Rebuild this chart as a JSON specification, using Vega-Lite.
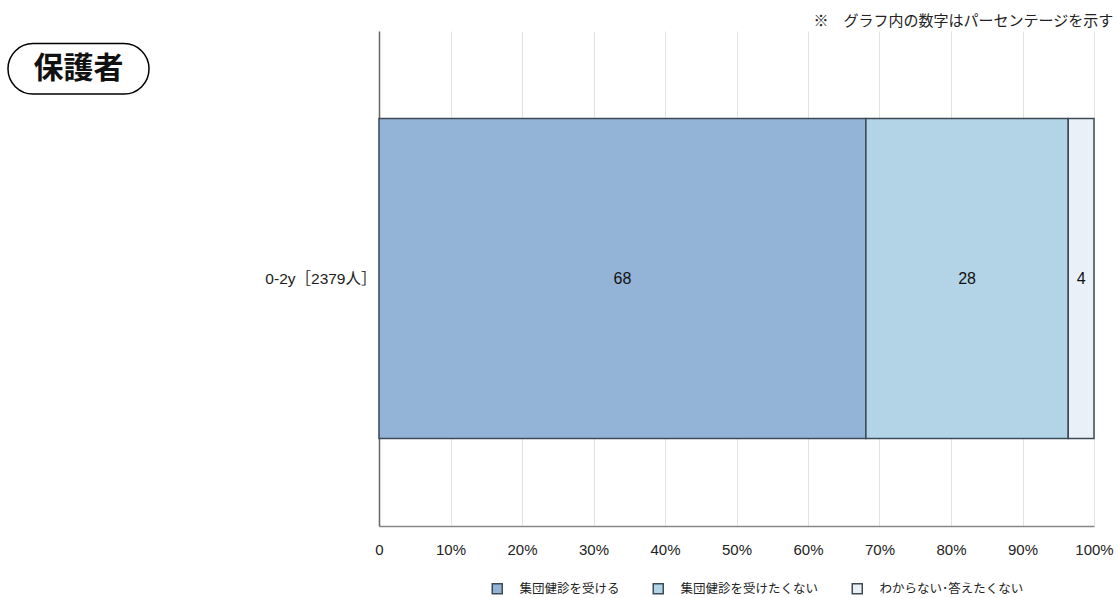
{
  "$schema": "https://vega.github.io/schema/vega-lite/v6.json",
  "background": "white",
  "padding": {"left": 7, "top": 14, "right": 4, "bottom": 2},
  "title": {"text": "※　グラフ内の数字はパーセンテージを示す", "anchor": "end", "fontSize": 15, "font": "Noto Sans CJK JP", "fontWeight": "normal", "color": "#222", "offset": 2},
  "config": {"view": {"stroke": null}, "font": "Liberation Sans, Noto Sans CJK JP"},
  "spacing": 105,
  "hconcat": [
    {
      "width": 141,
      "height": 63,
      "data": {"values": [{"label": "保護者"}]},
      "layer": [
        {
          "mark": {"type": "rect", "cornerRadius": 25, "fill": "white", "stroke": "black", "strokeWidth": 1.5},
          "encoding": {
            "x": {"datum": 0, "type": "quantitative", "scale": {"domain": [0, 1]}, "axis": null},
            "x2": {"datum": 1},
            "y": {"datum": 0, "type": "quantitative", "scale": {"domain": [0, 1]}, "axis": null},
            "y2": {"datum": 0.8}
          }
        },
        {
          "mark": {"type": "text", "fontSize": 30, "fontWeight": "bold", "font": "Noto Sans CJK JP", "color": "#111"},
          "encoding": {
            "x": {"datum": 0.5, "type": "quantitative"},
            "y": {"datum": 0.4, "type": "quantitative"},
            "text": {"field": "label"}
          }
        }
      ]
    },
    {
      "width": 715,
      "height": 495,
      "data": {"values": [
        {"group": "0-2y［2379人］", "answer": "集団健診を受ける", "order": 1, "value": 68.1},
        {"group": "0-2y［2379人］", "answer": "集団健診を受けたくない", "order": 2, "value": 28.3},
        {"group": "0-2y［2379人］", "answer": "わからない･答えたくない", "order": 3, "value": 3.6}
      ]},
      "transform": [
        {"stack": "value", "groupby": ["group"], "sort": [{"field": "order"}], "as": ["v0", "v1"]},
        {"calculate": "(datum.v0 + datum.v1) / 2", "as": "mid"}
      ],
      "encoding": {
        "y": {
          "field": "group", "type": "nominal", "title": null,
          "scale": {"paddingOuter": 0.273, "paddingInner": 0},
          "axis": {"domain": true, "domainColor": "#666", "domainWidth": 1.5, "ticks": false, "labelFontSize": 15.5, "labelPadding": 3, "labelColor": "#222", "grid": false, "minExtent": 124, "maxExtent": 124}
        }
      },
      "layer": [
        {
          "mark": {"type": "bar", "stroke": "#3d4b57", "strokeWidth": 1.5},
          "encoding": {
            "x": {
              "field": "v0", "type": "quantitative", "title": null,
              "scale": {"domain": [0, 100], "nice": false},
              "axis": {"values": [0, 10, 20, 30, 40, 50, 60, 70, 80, 90, 100], "labelExpr": "datum.value == 0 ? '0' : datum.value + '%'", "labelFlush": false, "grid": true, "gridColor": "#e2e2e2", "domainColor": "#888", "domainWidth": 1.5, "ticks": false, "labelFontSize": 15, "labelPadding": 16, "labelColor": "#222"}
            },
            "x2": {"field": "v1"},
            "color": {
              "field": "answer", "type": "nominal",
              "scale": {"domain": ["集団健診を受ける", "集団健診を受けたくない", "わからない･答えたくない"], "range": ["#93b3d7", "#b3d4e6", "#e9f0f8"]},
              "legend": {"title": null, "orient": "none", "legendX": 483, "legendY": 551, "direction": "horizontal", "symbolType": "square", "symbolSize": 100, "symbolStrokeColor": "#3d4b57", "symbolStrokeWidth": 1.5, "labelFontSize": 12.5, "labelColor": "#222", "labelFont": "Noto Sans CJK JP", "columnPadding": 30, "labelOffset": 16}
            }
          }
        },
        {
          "mark": {"type": "text", "fontSize": 16, "color": "#111"},
          "encoding": {
            "x": {"field": "mid", "type": "quantitative"},
            "text": {"field": "value", "type": "quantitative", "format": ".0f"}
          }
        }
      ]
    }
  ]
}
